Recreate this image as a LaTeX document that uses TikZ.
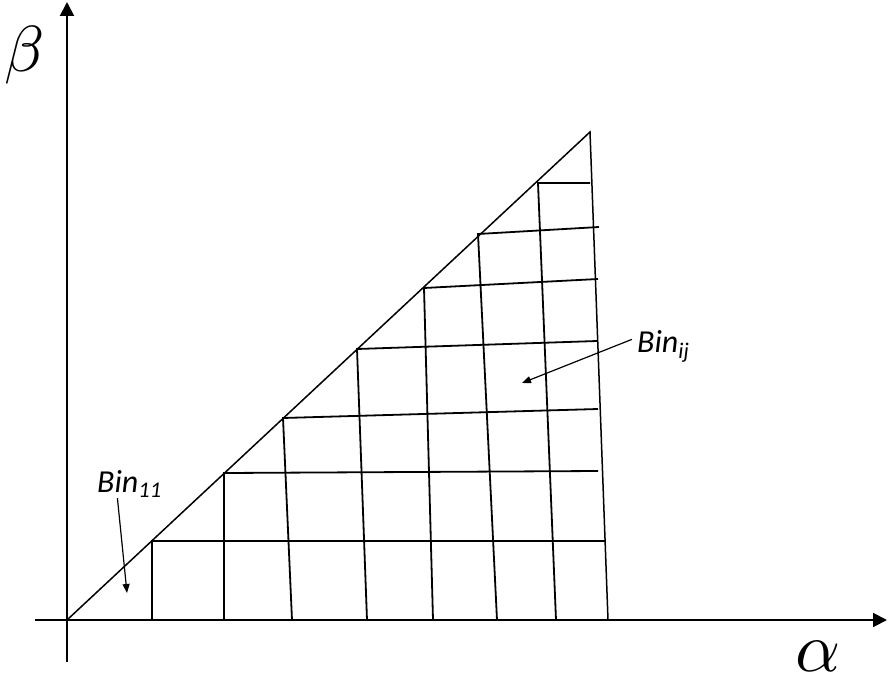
\documentclass[tikz,border=0pt]{standalone}
\usepackage{fontspec}
\newfontfamily\binfont{Carlito}
\usetikzlibrary{arrows.meta}

\begin{document}
\begin{tikzpicture}[
    x=1pt, y=-1pt,
    axis/.style={-{Triangle[length=14pt,width=14pt]}, line width=2pt},
    grid/.style={line width=1.8pt, line join=miter},
    arr/.style={-{Triangle[length=9pt,width=7pt]}, line width=1.2pt},
    bin/.style={font=\binfont\itshape\fontsize{32}{36}\selectfont, inner sep=0pt},
    sym/.style={scale=6.5, inner sep=0pt}
]
\useasboundingbox (0,0) rectangle (888,685);
\coordinate (o) at (67,620);
\coordinate (apex) at (590,132);
\coordinate (foot) at (608,620);
\coordinate (axl) at (35,620);
\coordinate (axr) at (887,620);
\coordinate (ayb) at (67,662);
\coordinate (ayt) at (67,2);

\draw[axis] (axl) -- (axr);
\draw[axis] (ayb) -- (ayt);
\node[sym, scale=1.08] (alpha) at (818,656) {$\alpha$};
\node[sym] (beta) at (25,55) {$\beta$};

\foreach \ps/\pt/\qs/\qt/\bs in {152/541/605/541/152, 224/473/598/471/224, 283/418/598/409/292,
    357/349/597/341/367, 424/288/598/279/433, 478/234/599/227/497, 538/183/590/183/556}
  \draw[grid] (\bs,620) -- (\ps,\pt) -- (\qs,\qt);
\draw[grid, line width=1.5pt] (o) -- (apex) -- (foot);

\node[bin, anchor=base west] (bin11) at (97,492) {Bin\textsubscript{11}};
\node[bin, anchor=base west] (binij) at (637,352) {Bin\textsubscript{ij}};
\coordinate (c11) at (127,593);
\coordinate (cij) at (522,383);
\draw[arr] ([xshift=-12pt]bin11.south) -- (c11);
\draw[arr] ([shift={(-5,-7)}]binij.west) -- (cij);
\end{tikzpicture}
\end{document}
